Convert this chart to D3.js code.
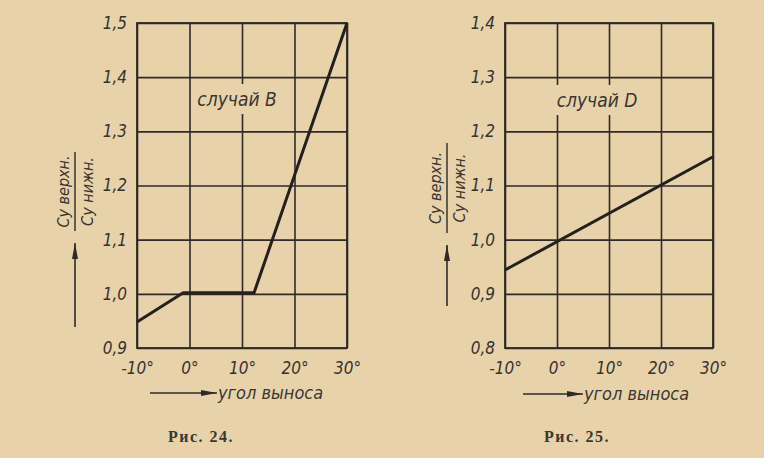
<!DOCTYPE html>
<html>
<head>
<meta charset="utf-8">
<script src="https://cdn.jsdelivr.net/npm/d3@7"></script>
<style>
  body { margin: 0; background: #e8d2aa; }
  svg { display: block; }
  .tick text { font-family: "DejaVu Sans Condensed", "DejaVu Sans", sans-serif; font-style: italic; font-size: 17px; fill: #35312e; }
  .tick line { stroke: #2e2a27; stroke-width: 1.6; }
</style>
</head>
<body>
<div id="chart"></div>
<script>
// angle ticks (degrees) shared by both figures
var angleTicks = [-10, 0, 10, 20, 30];

// Fig. 24, case B
var ratioTicksB = [0.9, 1.0, 1.1, 1.2, 1.3, 1.4, 1.5];
var angleB = [-10, -1.2, 12.3, 30];
var ratioB = [0.948, 1.002, 1.002, 1.5];

// Fig. 25, case D
var ratioTicksD = [0.8, 0.9, 1.0, 1.1, 1.2, 1.3, 1.4];
var angleD = [-10, 30];
var ratioD = [0.944, 1.153];

var svgWidth = 764;
var svgHeight = 458;
var ink = "#2e2a27";
var paper = "#e8d2aa";
var sans = "DejaVu Sans Condensed, DejaVu Sans, sans-serif";

var svg = d3.select("#chart")
  .append("svg")
  .attr("width", svgWidth)
  .attr("height", svgHeight);

svg.append("rect")
  .attr("width", svgWidth)
  .attr("height", svgHeight)
  .attr("fill", paper);

var defs = svg.append("defs");
defs.append("marker")
  .attr("id", "head")
  .attr("viewBox", "0 0 16 6")
  .attr("refX", 16)
  .attr("refY", 3)
  .attr("markerWidth", 16)
  .attr("markerHeight", 6)
  .attr("markerUnits", "userSpaceOnUse")
  .attr("orient", "auto")
  .append("path")
  .attr("d", "M0,0 L16,3 L0,6 Z")
  .attr("fill", ink);

var panels = [
  {
    left: 137, right: 347, top: 23, bottom: 348,
    yTicks: ratioTicksB, xs: angleB, ys: ratioB,
    caseText: "случай B", caseX: 237, caseY: 106,
    fracX: 75, fracTop: 152, fracBottom: 231,
    arrowTop: 243, arrowBottom: 327,
    xArrow: [150, 217], xLabelY: 399,
    caption: "Рис. 24.", captionX: 201
  },
  {
    left: 505, right: 713, top: 23, bottom: 348,
    yTicks: ratioTicksD, xs: angleD, ys: ratioD,
    caseText: "случай D", caseX: 597, caseY: 107,
    fracX: 447, fracTop: 143, fracBottom: 233,
    arrowTop: 245, arrowBottom: 306,
    xArrow: [523, 583], xLabelY: 400,
    caption: "Рис. 25.", captionX: 577
  }
];

panels.forEach(function (p) {
  var width = p.right - p.left;
  var height = p.bottom - p.top;

  var xScale = d3.scaleLinear()
    .domain([d3.min(angleTicks), d3.max(angleTicks)])
    .range([0, width]);

  var yScale = d3.scaleLinear()
    .domain([d3.min(p.yTicks), d3.max(p.yTicks)])
    .range([height, 0]);

  var g = svg.append("g")
    .attr("transform", `translate(${p.left}, ${p.top})`);

  // grid + tick labels
  var bottomAxis = d3.axisBottom(xScale)
    .tickValues(angleTicks)
    .tickSizeInner(-height)
    .tickSizeOuter(0)
    .tickPadding(10)
    .tickFormat(function (d) { return d + "°"; });

  var leftAxis = d3.axisLeft(yScale)
    .tickValues(p.yTicks)
    .tickSizeInner(-width)
    .tickSizeOuter(0)
    .tickPadding(10)
    .tickFormat(function (d) { return d.toFixed(1).replace(".", ","); });

  var xAxisG = g.append("g")
    .attr("transform", `translate(0, ${height})`)
    .call(bottomAxis);
  xAxisG.select(".domain").remove();
  xAxisG.selectAll("text").attr("dy", "0.95em");

  var yAxisG = g.append("g").call(leftAxis);
  yAxisG.select(".domain").remove();

  // frame
  g.append("rect")
    .attr("width", width)
    .attr("height", height)
    .attr("fill", "none")
    .attr("stroke", ink)
    .attr("stroke-width", 1.8);

  // case label, with paper behind it so the grid line breaks
  var caseLabel = svg.append("text")
    .attr("x", p.caseX)
    .attr("y", p.caseY)
    .attr("text-anchor", "middle")
    .attr("font-family", sans)
    .attr("font-style", "italic")
    .attr("font-size", "19px")
    .attr("fill", "#3a3632")
    .text(p.caseText);
  var bb = caseLabel.node().getBBox();
  svg.insert("rect", function () { return caseLabel.node(); })
    .attr("x", bb.x - 3)
    .attr("y", bb.y - 4)
    .attr("width", bb.width + 6)
    .attr("height", bb.height + 8)
    .attr("fill", paper);

  // curve
  var line = d3.line()
    .x(function (d) { return xScale(d[0]); })
    .y(function (d) { return yScale(d[1]); });

  g.append("path")
    .datum(d3.zip(p.xs, p.ys))
    .attr("d", line)
    .attr("fill", "none")
    .attr("stroke", "#24201e")
    .attr("stroke-width", 3)
    .attr("stroke-linejoin", "round");

  // y axis title: Cy upper / Cy lower, rotated
  svg.append("line")
    .attr("x1", p.fracX).attr("x2", p.fracX)
    .attr("y1", p.fracTop).attr("y2", p.fracBottom)
    .attr("stroke", ink)
    .attr("stroke-width", 1.4);

  var midY = (p.fracTop + p.fracBottom) / 2;
  [["Cy верхн.", -6], ["Cy нижн.", 18]].forEach(function (t) {
    svg.append("text")
      .attr("transform", `translate(${p.fracX + t[1]}, ${midY}) rotate(-90)`)
      .attr("text-anchor", "middle")
      .attr("font-family", sans)
      .attr("font-style", "italic")
      .attr("font-size", "16px")
      .attr("fill", "#3a3632")
      .text(t[0]);
  });

  svg.append("line")
    .attr("x1", p.fracX).attr("x2", p.fracX)
    .attr("y1", p.arrowBottom).attr("y2", p.arrowTop)
    .attr("stroke", ink)
    .attr("stroke-width", 1.6)
    .attr("marker-end", "url(#head)");

  // x axis title
  svg.append("line")
    .attr("x1", p.xArrow[0]).attr("x2", p.xArrow[1])
    .attr("y1", p.xLabelY - 6).attr("y2", p.xLabelY - 6)
    .attr("stroke", ink)
    .attr("stroke-width", 1.6)
    .attr("marker-end", "url(#head)");

  svg.append("text")
    .attr("x", p.xArrow[1] + 1)
    .attr("y", p.xLabelY)
    .attr("font-family", sans)
    .attr("font-style", "italic")
    .attr("font-size", "18px")
    .attr("fill", "#3a3632")
    .text("угол выноса");

  // figure caption
  svg.append("text")
    .attr("x", p.captionX)
    .attr("y", 442)
    .attr("text-anchor", "middle")
    .attr("font-family", "Liberation Serif, serif")
    .attr("font-size", "16px")
    .attr("font-weight", "bold")
    .attr("letter-spacing", "1.5px")
    .attr("fill", "#3a3632")
    .text(p.caption);
});
</script>
</body>
</html>
